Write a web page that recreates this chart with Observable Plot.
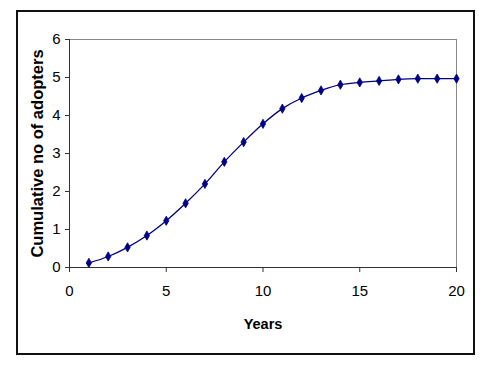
<!DOCTYPE html>
<html>
<head>
<meta charset="utf-8">
<script src="https://cdn.jsdelivr.net/npm/d3@7"></script>
<script src="https://cdn.jsdelivr.net/npm/@observablehq/plot@0.6"></script>
<style>
  html, body { margin: 0; padding: 0; background: #fff; }
  #wrap { position: relative; width: 494px; height: 369px; }
  #border { position: absolute; left: 16px; top: 10px; width: 455px; height: 341px; border: 2px solid #111; pointer-events: none; }
  #chart svg { display: block; }
  g[aria-label="x-axis label"] text { font-weight: bold; font-size: 14.5px; }
  g[aria-label="y-axis label"] text { font-weight: bold; font-size: 16.5px; font-family: 'Liberation Sans', Arial, sans-serif; }
</style>
</head>
<body>
<div id="wrap"><div id="chart"></div><div id="border"></div></div>
<script>
const years = [1,2,3,4,5,6,7,8,9,10,11,12,13,14,15,16,17,18,19,20];
const adopters = [0.12,0.29,0.53,0.84,1.23,1.69,2.2,2.78,3.3,3.78,4.18,4.46,4.66,4.81,4.87,4.91,4.95,4.97,4.97,4.97];
const xTicks = [0,5,10,15,20];
const yTicks = [0,1,2,3,4,5,6];
const xLabel = "Years";
const yLabel = "Cumulative no of adopters";

const data = years.map((y, i) => ({year: y, value: adopters[i]}));

const chart = Plot.plot({
  width: 494,
  height: 369,
  marginLeft: 69,
  marginRight: 38,
  marginTop: 39,
  marginBottom: 102,
  style: {fontFamily: "'Liberation Sans Narrow', 'Arial Narrow', 'Liberation Sans', sans-serif", fontSize: "15px", color: "#000", background: "#fff"},
  x: {domain: [0, 20]},
  y: {domain: [0, 6]},
  marks: [
    Plot.frame({stroke: "#888"}),
    Plot.ruleX([0], {stroke: "#333"}),
    Plot.ruleY([0], {stroke: "#333"}),
    Plot.axisX({ticks: xTicks, tickFormat: "d", tickSize: 5, tickPadding: 13, label: xLabel, labelAnchor: "center", labelArrow: "none", labelOffset: 61, stroke: "#333"}),
    Plot.axisY({ticks: yTicks, tickFormat: "d", tickSize: 4, tickPadding: 5, label: yLabel, labelAnchor: "center", labelArrow: "none", labelOffset: 38, stroke: "#333"}),
    Plot.line(data, {x: "year", y: "value", stroke: "#000080", strokeWidth: 1.3, curve: "catmull-rom"}),
    Plot.dot(data, {x: "year", y: "value", symbol: "diamond", r: 2.8, fill: "#000080", stroke: "#000080", strokeWidth: 0.8})
  ]
});
document.getElementById("chart").appendChild(chart);
</script>
</body>
</html>
